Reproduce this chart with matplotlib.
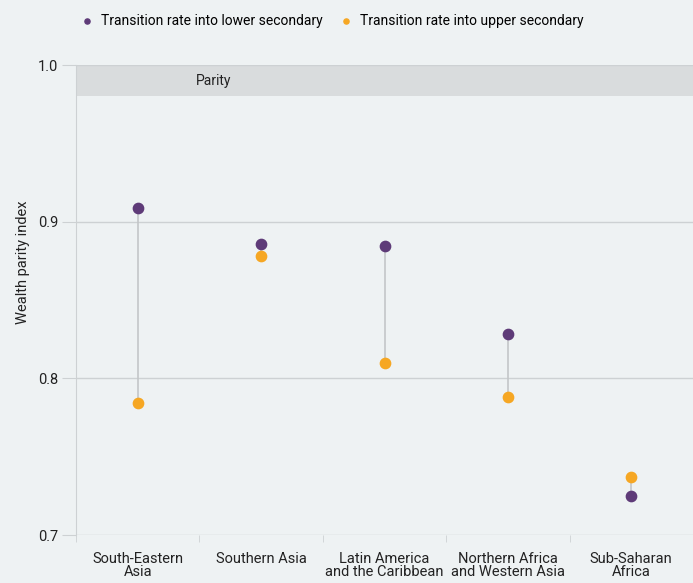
import numpy as np
import matplotlib.pyplot as plt

plt.rcParams['font.family'] = ['Roboto', 'DejaVu Sans']

regions = ['South-Eastern\nAsia', 'Southern Asia', 'Latin America\nand the Caribbean',
           'Northern Africa\nand Western Asia', 'Sub-Saharan\nAfrica']
lower_sec = [0.909, 0.886, 0.8845, 0.828, 0.725]
upper_sec = [0.784, 0.878, 0.810, 0.788, 0.737]

bg = '#eef2f3'
purple = '#5e3b78'
orange = '#f6a723'
grid = '#cdd1d3'

fig = plt.figure(figsize=(6.93, 5.83), dpi=100, facecolor=bg)
ax = fig.add_axes([0.1097, 0.0823, 0.8903, 0.8062], facecolor=bg)

x = np.arange(len(regions))
ax.axhspan(0.98, 1.0, color='#d9dcdd', zorder=0, lw=0)
ax.text(0.47, 0.99, 'Parity', va='center', ha='left', fontsize=10, color='#222222')

ax.vlines(x, lower_sec, upper_sec, color='#c3c6c8', lw=1.2, zorder=1)
ax.scatter(x, lower_sec, s=55, color=purple, zorder=3, label='Transition rate into lower secondary')
ax.scatter(x, upper_sec, s=55, color=orange, zorder=3, label='Transition rate into upper secondary')

ax.set_xlim(-0.5, 4.5)
ax.set_ylim(0.7, 1.0)
ax.set_yticks([0.7, 0.8, 0.9, 1.0])
ax.set_yticklabels(['0.7', '0.8', '0.9', '1.0'])
ax.set_xticks(x)
ax.set_xticklabels(regions, linespacing=0.95)
ax.set_xticks(np.arange(-0.5, 4.5, 1), minor=True)
ax.tick_params(axis='x', which='major', length=0, pad=12, labelsize=10.5, colors='#222222')
ax.tick_params(axis='x', which='minor', length=5, color=grid)
ax.tick_params(axis='y', length=10, color=grid, labelsize=10.5, colors='#222222', pad=3)
ax.grid(axis='y', color=grid, lw=1)
ax.set_axisbelow(True)
for s in ['top', 'right', 'bottom']:
    ax.spines[s].set_visible(False)
ax.spines['left'].set_color(grid)
ax.set_ylabel('Wealth parity index', fontsize=10.5, color='#222222')
ax.yaxis.set_label_coords(-0.075, 0.58)

fig.legend(loc='upper left', bbox_to_anchor=(0.085, 1.0), ncol=2, frameon=False,
           fontsize=10, handletextpad=0.0, columnspacing=0.7, markerscale=0.5,
           borderaxespad=0.6)

plt.savefig('out.png', dpi=100, facecolor=bg)
